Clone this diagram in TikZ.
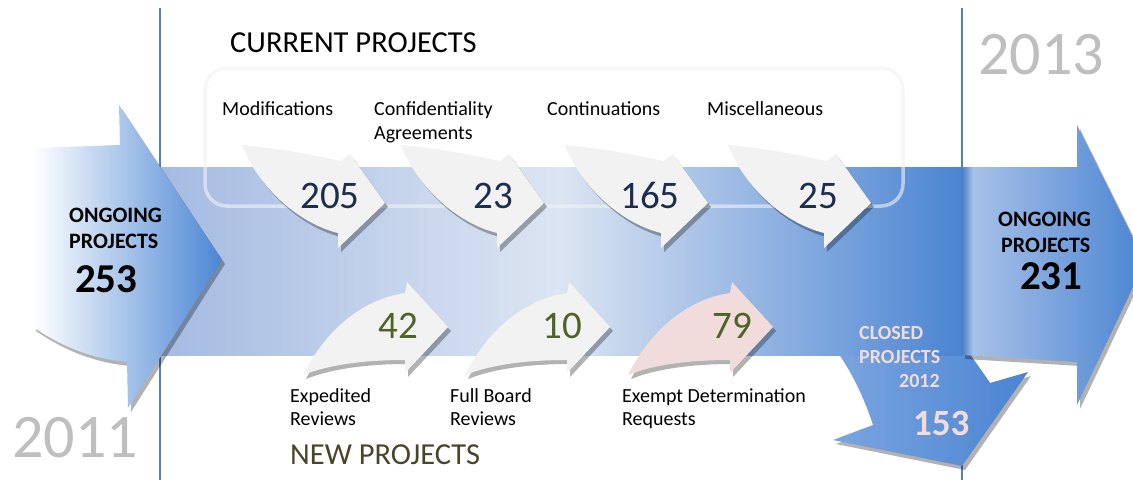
\documentclass[tikz,border=0pt]{standalone}
\usepackage{fontspec}
\setmainfont{Carlito}
\usetikzlibrary{shadows}
\definecolor{bandL}{HTML}{A4BAE2}
\definecolor{bandM}{HTML}{DCE5F2}
\definecolor{bandR}{HTML}{4B84D2}
\definecolor{edgeD}{HTML}{4A7FC8}
\definecolor{rarL}{HTML}{A7C1E7}
\definecolor{rarR}{HTML}{4A84D2}
\definecolor{leftR}{HTML}{4B86D4}
\definecolor{closedL}{HTML}{7BA5DF}
\definecolor{closedR}{HTML}{4A84D2}
\definecolor{arrGray}{HTML}{F2F2F2}
\definecolor{arrPink}{HTML}{F2DCDB}
\definecolor{numNavy}{HTML}{1C2E4C}
\definecolor{numOlive}{HTML}{4F6228}
\definecolor{newOlive}{HTML}{4A452A}
\definecolor{yearGray}{HTML}{BFBFBF}
\definecolor{vline}{HTML}{4F81BD}
\definecolor{boxLine}{HTML}{F3F3F3}
\pgfdeclarehorizontalshading{bandshade}{100bp}{color(0bp)=(bandL); color(25bp)=(bandL); color(50bp)=(bandM); color(75bp)=(bandR); color(100bp)=(bandR)}
\pgfdeclarehorizontalshading{rightshade}{100bp}{color(0bp)=(edgeD); color(25bp)=(edgeD); color(28bp)=(rarL); color(75bp)=(rarR); color(100bp)=(rarR)}
\begin{document}
\begin{tikzpicture}[x=1pt,y=-1pt,
  shad/.style={drop shadow={shadow xshift=3pt,shadow yshift=-4pt,opacity=0.3,fill=black}},
  lbl/.style={anchor=base west,inner sep=0pt,font=\fontsize{20}{24}\selectfont},
  head/.style={anchor=base west,inner sep=0pt,font=\fontsize{30.5}{34}\selectfont},
  bignum/.style={anchor=base,inner sep=0pt,font=\fontsize{39}{44}\selectfont},
  ongo/.style={anchor=base west,inner sep=0pt,font=\fontsize{22}{26}\selectfont\bfseries},
  ongonum/.style={anchor=base west,inner sep=0pt,font=\fontsize{41}{46}\selectfont\bfseries},
  closedtxt/.style={anchor=base west,inner sep=0pt,font=\fontsize{20}{24}\selectfont\bfseries,text=arrPink},
  year/.style={anchor=base west,inner sep=0pt,font=\fontsize{62}{70}\selectfont,text=yearGray},
  toparr/.pic={\path[fill=arrGray,shad] (0,0) .. controls (35,3) and (70,10) .. (99,16) -- (108,9) -- (143,58) -- (96,103) -- (96,88) .. controls (55,78) and (15,40) .. (0,0) -- cycle;},
  botarr/.pic={\path[fill=\pgfkeysvalueof{/tikz/arrfill},shad] (0,0) .. controls (20,-40) and (55,-75) .. (102,-82) -- (104,-93) -- (145,-48) -- (102,-2) -- (102,-15) .. controls (60,-15) and (25,-10) .. (0,0) -- cycle;},
  arrfill/.initial=arrGray
]
\useasboundingbox (0,0) rectangle (1133,480);
\fill[white] (0,0) rectangle (1133,480);
\clip (0,0) rectangle (1133,480);

% vertical year separators
\coordinate (l1t) at (160,8); \coordinate (l1b) at (160,480);
\coordinate (l2t) at (962,8); \coordinate (l2b) at (962,480);
\draw[vline,line width=1.5pt] (l1t) -- (l1b);
\draw[vline,line width=1.5pt] (l2t) -- (l2b);

% closed projects arrow
\path[left color=closedL,right color=closedR,shad] (836,350) .. controls (852,372) and (865,400) .. (873,425) -- (833,440) -- (962,466) -- (1028,372) -- (990,383) -- (962,343) -- cycle;

% main band
\path[shading=bandshade] (155,167) rectangle (962,355);

% right arrow
\path[shading=rightshade,shad] (962,167) -- (1077,167) -- (1077,125) -- (1145,262) -- (1077,405) -- (1077,362) -- (962,355) -- cycle;

% current projects frame
\draw[boxLine,line width=3.5pt,opacity=0.6,rounded corners=22pt] (205,68) rectangle (903,206);

% left arrow
\path[left color=white,right color=leftR,shad] (33,148) -- (120,145) -- (119,105) -- (222,260) -- (128,408) -- (127,362) .. controls (85,358) and (55,342) .. (33,327) -- cycle;

% top arrows
\pic at (242,145) {toparr};
\pic at (401,145) {toparr};
\pic at (565,145) {toparr};
\pic at (728,145) {toparr};

% bottom arrows
\pic at (303,375) {botarr};
\pic at (465,375) {botarr};
\pic[arrfill=arrPink] at (628,375) {botarr};

% texts
\node[head] (cur) at (230,52) {CURRENT PROJECTS};
\node[head,text=newOlive] (new) at (290,464) {NEW PROJECTS};
\node[year] (y11) at (12,457) {2011};
\node[year] (y13) at (978,74) {2013};

\node[lbl] (mod) at (222,115) {Modifications};
\node[lbl] (conf1) at (374,115) {Confidentiality};
\node[lbl] (conf2) at (374,139) {Agreements};
\node[lbl] (cont) at (547,115) {Continuations};
\node[lbl] (misc) at (707,115) {Miscellaneous};

\node[bignum,text=numNavy] (n205) at (330,208) {205};
\node[bignum,text=numNavy] (n23) at (493,208) {23};
\node[bignum,text=numNavy] (n165) at (650,208) {165};
\node[bignum,text=numNavy] (n25) at (818,208) {25};

\node[bignum,text=numOlive] (n42) at (398,338) {42};
\node[bignum,text=numOlive] (n10) at (562,338) {10};
\node[bignum,text=numOlive] (n79) at (732,338) {79};

\node[lbl] (exp1) at (290,402) {Expedited};
\node[lbl] (exp2) at (290,425) {Reviews};
\node[lbl] (fb1) at (450,402) {Full Board};
\node[lbl] (fb2) at (450,425) {Reviews};
\node[lbl] (ex1) at (622,402) {Exempt Determination};
\node[lbl] (ex2) at (622,425) {Requests};

\node[ongo] (lo1) at (69,222) {ONGOING};
\node[ongo] (lo2) at (69,248) {PROJECTS};
\node[ongonum] (lo3) at (75,292) {253};

\node[ongo] (ro1) at (998,226) {ONGOING};
\node[ongo] (ro2) at (1001,252) {PROJECTS};
\node[ongonum] (ro3) at (1020,289) {231};

\node[closedtxt] (cl1) at (859,339) {CLOSED};
\node[closedtxt] (cl2) at (859,363) {PROJECTS};
\node[closedtxt] (cl3) at (899,387) {2012};
\node[closedtxt,font=\fontsize{37}{42}\selectfont\bfseries] (cl4) at (913,435) {153};
\end{tikzpicture}
\end{document}
